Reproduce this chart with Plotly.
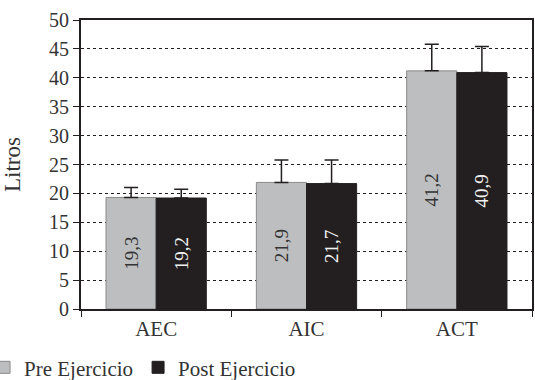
import plotly.graph_objects as go

categories = ["AEC", "AIC", "ACT"]
pre_values = [19.3, 21.9, 41.2]
post_values = [19.2, 21.7, 40.9]
pre_errors = [1.7, 3.9, 4.6]
post_errors = [1.5, 4.1, 4.5]
pre_labels = ["19,3", "21,9", "41,2"]
post_labels = ["19,2", "21,7", "40,9"]
series_names = ["Pre Ejercicio", "Post Ejercicio"]
y_ticks = [0, 5, 10, 15, 20, 25, 30, 35, 40, 45, 50]

FONT = '"Liberation Serif", "Times New Roman", serif'
TXT = "#333333"

fig = go.Figure()
fig.add_trace(go.Bar(
    x=categories, y=pre_values, name=series_names[0],
    marker=dict(color="#bdbec0", line=dict(color="#8a8a8a", width=1)),
    text=pre_labels, textposition="inside", textangle=-90,
    insidetextanchor="middle",
    textfont=dict(family=FONT, size=19, color="#333333"),
    error_y=dict(type="data", array=pre_errors, arrayminus=[0, 0, 0], symmetric=False,
                 color="#231f20", thickness=1.5, width=7),
))
fig.add_trace(go.Bar(
    x=categories, y=post_values, name=series_names[1],
    marker=dict(color="#231f20", line=dict(color="#231f20", width=1)),
    text=post_labels, textposition="inside", textangle=-90,
    insidetextanchor="middle",
    textfont=dict(family=FONT, size=19, color="#f2f2f2"),
    error_y=dict(type="data", array=post_errors, arrayminus=[0, 0, 0], symmetric=False,
                 color="#231f20", thickness=1.5, width=7),
))

fig.update_layout(
    width=535, height=380, autosize=False,
    margin=dict(l=81, r=3, t=20, b=71, autoexpand=False),
    paper_bgcolor="white", plot_bgcolor="white",
    barmode="group", bargap=0.333, bargroupgap=0,
    font=dict(family=FONT, size=20, color=TXT),
    showlegend=True,
    legend=dict(orientation="h", xref="paper", yref="paper",
                x=-0.215, y=-0.203, xanchor="left", yanchor="middle",
                font=dict(family=FONT, size=21, color=TXT),
                itemwidth=30, tracegroupgap=0, bgcolor="rgba(0,0,0,0)"),
)
fig.update_yaxes(
    range=[0, 50], tickvals=y_ticks, ticks="outside", ticklen=6, tickcolor="#231f20",
    showline=True, linecolor="#231f20", linewidth=2, mirror=True,
    showgrid=True, gridcolor="#231f20", griddash="dot", gridwidth=1,
    zeroline=False, automargin=False,
    title=dict(text="Litros", font=dict(family=FONT, size=23, color=TXT), standoff=24),
    tickfont=dict(family=FONT, size=20, color=TXT),
)
fig.update_xaxes(
    tickson="boundaries", ticks="outside", ticklen=6, tickcolor="#231f20",
    showline=True, linecolor="#231f20", linewidth=2, mirror=True, automargin=False,
    tickfont=dict(family=FONT, size=21, color=TXT),
)

fig.write_html(
    "out.html",
    config={"responsive": False, "displayModeBar": False},
    post_script="document.body.style.margin='0';document.body.style.overflow='hidden';",
)
